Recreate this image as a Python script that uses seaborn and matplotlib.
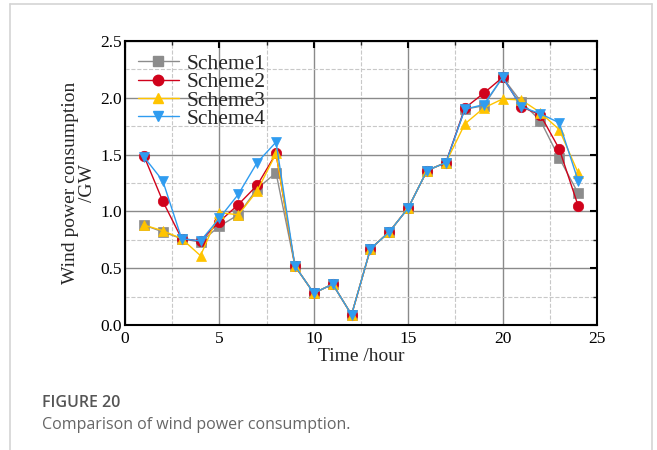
import matplotlib
matplotlib.use("Agg")
import matplotlib.pyplot as plt
from matplotlib.lines import Line2D
from matplotlib.ticker import MultipleLocator, FormatStrFormatter
import seaborn as sns
import pandas as pd

hours = list(range(1, 25))
scheme1 = [0.88, 0.82, 0.76, 0.73, 0.87, 0.97, 1.20, 1.34, 0.52, 0.28, 0.36, 0.09,
           0.67, 0.82, 1.03, 1.36, 1.43, 1.90, 1.93, 2.18, 1.96, 1.80, 1.47, 1.16]
scheme2 = [1.49, 1.09, 0.76, 0.74, 0.91, 1.06, 1.23, 1.51, 0.52, 0.28, 0.36, 0.09,
           0.67, 0.82, 1.03, 1.36, 1.43, 1.91, 2.04, 2.18, 1.92, 1.85, 1.55, 1.05]
scheme3 = [0.88, 0.83, 0.76, 0.61, 0.99, 0.97, 1.18, 1.51, 0.52, 0.28, 0.36, 0.09,
           0.67, 0.82, 1.03, 1.36, 1.43, 1.77, 1.91, 1.99, 1.98, 1.87, 1.72, 1.34]
scheme4 = [1.48, 1.27, 0.76, 0.74, 0.94, 1.15, 1.43, 1.61, 0.52, 0.28, 0.36, 0.09,
           0.67, 0.82, 1.03, 1.36, 1.43, 1.90, 1.94, 2.18, 1.92, 1.86, 1.78, 1.27]
names = ["Scheme1", "Scheme2", "Scheme3", "Scheme4"]
colors = ["#8c8c8c", "#d0021b", "#ffc400", "#2f9cf0"]
markers = ["s", "o", "^", "v"]

df = pd.DataFrame({
    "hour": hours * 4,
    "value": scheme1 + scheme2 + scheme3 + scheme4,
    "scheme": [n for n in names for _ in hours],
})

sns.set_theme(style="white")
plt.rcParams["font.family"] = ["Liberation Serif", "DejaVu Serif"]

fig = plt.figure(figsize=(6.57, 4.5), dpi=100)
ax = fig.add_axes([125 / 657, 1 - 325 / 450, 472 / 657, 284 / 450])

sns.lineplot(data=df, x="hour", y="value", hue="scheme", style="scheme",
             hue_order=names, style_order=names, palette=colors,
             markers=dict(zip(names, markers)), dashes=False,
             markersize=7.5, linewidth=1.0, ax=ax, legend=False)

# filled markers with edges in the series colour
for line in ax.lines:
    line.set_markeredgecolor(line.get_color())
    line.set_markeredgewidth(0.5)

ax.set_xlim(0, 25)
ax.set_ylim(0, 2.5)
ax.xaxis.set_major_locator(MultipleLocator(5))
ax.xaxis.set_minor_locator(MultipleLocator(2.5))
ax.yaxis.set_major_locator(MultipleLocator(0.5))
ax.yaxis.set_minor_locator(MultipleLocator(0.25))
ax.yaxis.set_major_formatter(FormatStrFormatter("%.1f"))

ax.grid(which="major", color="#8a8a8a", linestyle="-", linewidth=1.0)
ax.grid(which="minor", color="#c8c8c8", linestyle="--", linewidth=0.8)
ax.set_axisbelow(True)

for s in ax.spines.values():
    s.set_visible(True)
    s.set_color("black")
    s.set_linewidth(1.5)

ax.tick_params(which="major", direction="in", length=5, width=1.5,
               top=True, right=True, labelsize=12.5, colors="black")
ax.tick_params(axis="y", which="major", pad=2)
ax.tick_params(axis="x", which="major", pad=4)
ax.tick_params(which="minor", direction="in", length=3, width=1.0,
               top=True, right=True)

ax.set_xlabel("Time /hour", fontsize=14, labelpad=1)
ax.set_ylabel("Wind power consumption\n/GW", fontsize=14, labelpad=3,
              linespacing=1.05)

handles = [Line2D([], [], color=c, marker=m, markersize=7.5, mec=c, lw=1.0)
           for c, m in zip(colors, markers)]
ax.legend(handles, names, loc="upper left", frameon=False, fontsize=15.5,
          handlelength=1.9, labelspacing=-0.08, handletextpad=0.35,
          borderaxespad=0.4, borderpad=0.2, bbox_to_anchor=(0.0, 1.0))

# page frame around the figure panel
frame_color = "#d4d4d4"
fig.add_artist(Line2D([10 / 657, 10 / 657], [0, 1 - 4 / 450], color=frame_color, lw=1.2))
fig.add_artist(Line2D([652 / 657, 652 / 657], [0, 1 - 4 / 450], color=frame_color, lw=1.2))
fig.add_artist(Line2D([10 / 657, 652 / 657], [1 - 4 / 450, 1 - 4 / 450], color=frame_color, lw=1.2))

fig.text(42 / 657, 1 - 403 / 450, "FIGURE 20", fontsize=11.5, color="#555555",
         family="Open Sans", fontweight="semibold", va="center", ha="left")
fig.text(42 / 657, 1 - 425 / 450, "Comparison of wind power consumption.",
         fontsize=11.5, color="#666666", family="Open Sans", va="center", ha="left")

fig.savefig("out.png", dpi=100)
